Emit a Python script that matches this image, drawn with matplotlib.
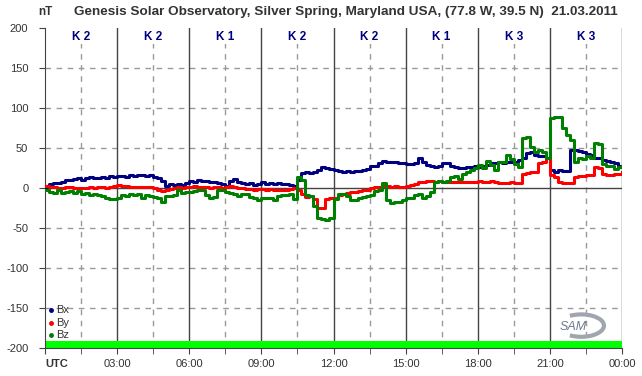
import numpy as np
import matplotlib
matplotlib.use("Agg")
import matplotlib.pyplot as plt
from matplotlib.patches import Arc

# ---- data (10-minute samples, 00:00 .. 24:00 UTC) ----
bx = [0, 5, 6, 6, 8, 10, 10, 11, 12, 10, 12, 14,
      13, 12, 14, 13, 15, 14, 15, 15, 14, 16, 15, 16,
      16, 15, 16, 14, 12, 9, 3, 5, 4, 5, 4, 6,
      9, 8, 10, 9, 9, 8, 7, 6, 5, 3, 9, 11,
      8, 6, 5, 6, 4, 5, 7, 5, 6, 5, 6, 5,
      5, 4, 2, 10, 19, 20, 19, 20, 23, 26, 25, 24,
      22, 21, 20, 21, 20, 21, 21, 22, 24, 27, 28, 31,
      34, 33, 33, 32, 31, 31, 30, 30, 31, 37, 33, 29,
      28, 26, 28, 31, 31, 27, 26, 25, 25, 26, 26, 27,
      26, 28, 29, 31, 31, 32, 31, 32, 32, 33, 35, 37,
      44, 45, 41, 40, 40, 38, 22, 20, 22, 21, 21, 47,
      48, 46, 45, 43, 41, 38, 37, 35, 34, 33, 31, 28,
      28]
by = [2, 1, 1, 0, 0, 1, 1, 0, 0, 0, 0, 1,
      0, 1, 1, 0, 1, 2, 4, 3, 2, 1, 1, 1,
      1, 1, 1, 0, -2, -4, -3, -1, 0, 1, 0, 1,
      1, 2, 1, 1, 1, 0, 1, 1, 0, 1, 2, 1,
      0, 0, -1, -1, -2, -1, -1, -2, -1, -2, -3, -3,
      -2, -1, 0, -3, -8, -11, -10, -14, -25, -25, -14, -12,
      -12, -9, -7, -6, -5, -5, -4, -3, -2, 0, 1, 1,
      2, 2, 1, 2, 1, 1, 2, 4, 5, 7, 8, 9,
      9, 8, 9, 8, 8, 7, 7, 8, 8, 7, 8, 8,
      9, 8, 8, 9, 7, 6, 6, 6, 7, 6, 6, 18,
      19, 20, 20, 31, 33, 37, 16, 14, 7, 6, 6, 6,
      14, 15, 15, 16, 16, 26, 25, 17, 16, 16, 18, 17,
      20]
bz = [-3, -5, -6, -2, -6, -5, -4, -6, -4, -7, -6, -9,
      -8, -9, -10, -13, -14, -14, -13, -9, -10, -8, -9, -8,
      -12, -9, -10, -11, -12, -17, -10, -10, -9, -3, -6, -5,
      -5, -4, -2, -3, -9, -12, -11, -3, -2, -5, -6, -7,
      -10, -8, -7, -11, -12, -15, -13, -12, -12, -15, -10, -9,
      -9, -8, -14, 14, 10, -9, -10, -22, -38, -39, -40, -37,
      -14, -8, -7, -10, -15, -15, -13, -11, -10, -9, -4, -2,
      6, -15, -19, -17, -18, -15, -13, -12, -9, -8, -12, -10,
      -5, 8, 9, 8, 9, 14, 15, 11, 18, 20, 22, 25,
      29, 25, 34, 29, 22, 32, 32, 41, 36, 30, 26, 62,
      64, 51, 45, 47, 45, 38, 87, 89, 89, 75, 66, 60,
      33, 38, 36, 40, 37, 56, 55, 30, 28, 27, 24, 26,
      28]
k_index = [2, 2, 1, 2, 2, 1, 3, 3]
hour_ticks = [0, 3, 6, 9, 12, 15, 18, 21, 24]
hour_labels = ["UTC", "03:00", "06:00", "09:00", "12:00", "15:00", "18:00", "21:00", "00:00"]
y_ticks = [-200, -150, -100, -50, 0, 50, 100, 150, 200]

t = np.linspace(0, 24, len(bx))

plt.rcParams['font.family'] = ['Liberation Sans', 'DejaVu Sans']
fig = plt.figure(figsize=(6.42, 3.76), dpi=100)
ax = fig.add_axes([45/642, 28/376, 577/642, 320/376])
ax.set_xlim(0, 24)
ax.set_ylim(-200, 200)

txtc = '#333333'
gridc = '#999999'
solidc = '#444444'

# grid
for y in [-150, -100, -50, 50, 100, 150]:
    ax.axhline(y, color=gridc, lw=1, ls=(0, (4, 4)), zorder=1)
for h in np.arange(1.5, 24, 3):
    ax.axvline(h, color=gridc, lw=1, ls=(0, (4, 4)), zorder=1)
for h in range(3, 25, 3):
    ax.axvline(h, color=solidc, lw=1, zorder=1)
ax.axhline(0, color=solidc, lw=1, zorder=1)

ax.axhspan(-200, -191, color='#00ff00', lw=0, zorder=1.5)

ax.plot(t, bx, color='#000080', lw=2.2, drawstyle='steps-post', zorder=3)
ax.plot(t, by, color='#ff0000', lw=2.2, drawstyle='steps-post', zorder=3)
ax.plot(t, bz, color='#008000', lw=2.2, drawstyle='steps-post', zorder=3)

for i, k in enumerate(k_index):
    ax.text(1.5 + 3*i, 189, f"K {k}", ha='center', va='center', fontsize=8.5,
            fontweight='bold', color='#000080', zorder=4,
            bbox=dict(facecolor='white', edgecolor='none', pad=1))

for spine in ['top', 'right']:
    ax.spines[spine].set_visible(False)
for spine in ['left', 'bottom']:
    ax.spines[spine].set_color(solidc)

ax.set_yticks(y_ticks)
ax.set_yticklabels([str(v) for v in y_ticks], fontsize=8, color=txtc)
ax.set_xticks(hour_ticks)
ax.set_xticklabels(hour_labels, fontsize=8, color=txtc)
ax.set_xticks(np.arange(1.5, 24, 3), minor=True)
ax.tick_params(axis='y', length=4, color=solidc, pad=8)
ax.tick_params(axis='x', which='both', length=4, color=solidc, pad=4)
ax.get_xticklabels()[0].set_fontweight('bold')
ax.get_xticklabels()[0].set_horizontalalignment('left')

# legend
for name, c, yv in [("Bx", '#000080', -153), ("By", '#ff0000', -169), ("Bz", '#008000', -184)]:
    ax.plot([0.25], [yv], marker='o', ms=2.5, color=c, zorder=5)
    ax.text(0.45, yv, name, fontsize=8, color=txtc, va='center', ha='left', zorder=5)

# logo
ax.text(21.95, -174, "SAM", fontsize=9, style='italic', color='#6f7a8e', ha='center', va='center', zorder=2)
ax.add_patch(Arc((22.3, -172), 1.9, 28, theta1=-92.2, theta2=92.2, color='#a0a6ae', lw=3, zorder=2))

fig.text(45/642, 1 - 12/376, "nT", fontsize=8.5, fontweight='bold', color=txtc, ha='center', va='center')
fig.text(346/642, 1 - 12/376,
         "Genesis Solar Observatory, Silver Spring, Maryland USA, (77.8 W, 39.5 N)  21.03.2011",
         fontsize=9.7, fontweight='bold', color=txtc, ha='center', va='center',
         family=['Liberation Sans Narrow', 'Liberation Sans', 'DejaVu Sans'])

fig.savefig("out.png", dpi=100)
